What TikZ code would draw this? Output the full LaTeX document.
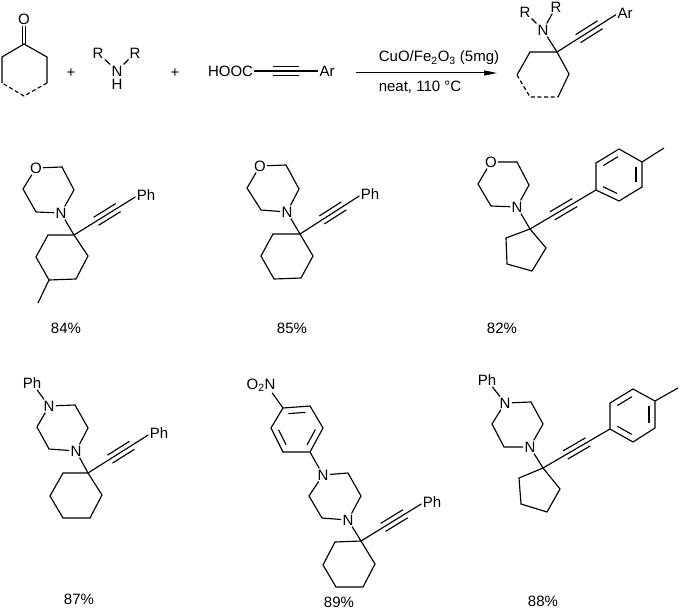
\documentclass[tikz,border=0pt]{standalone}
\usepackage{fontspec}
\setmainfont{Liberation Sans}
\usetikzlibrary{calc,arrows.meta}

\tikzset{
  bond/.style={line width=1.15pt},
  dashbond/.style={line width=1.15pt, dash pattern=on 4pt off 2.6pt},
  atom/.style={inner sep=1.2pt, font=\fontsize{15}{16}\selectfont},
  yield/.style={inner sep=1pt, font=\fontsize{15}{16}\selectfont}
}
% three lines of a triple bond, the middle one runs the whole way
\newcommand{\alkynebond}[3][26pt]{%
  \draw [bond] (#2) -- (#3);
  \draw [bond] ($(#2)!#1!(#3)!4.7pt!90:(#3)$) -- ($(#2)!#1+26pt!(#3)!4.7pt!90:(#3)$);
  \draw [bond] ($(#2)!#1!(#3)!4.7pt!-90:(#3)$) -- ($(#2)!#1+26pt!(#3)!4.7pt!-90:(#3)$);}
% inner line of an aromatic double bond, ring taken clockwise
\newcommand{\innerbond}[2]{%
  \draw [bond] ($(#1)!5pt!(#2)!6pt!-90:(#2)$) -- ($(#2)!5pt!(#1)!6pt!90:(#1)$);}

\begin{document}
\begin{tikzpicture}[x=1pt, y=-1pt]
        \useasboundingbox (0,0) rectangle (680,610);

        \node [atom] (o0) at (24,19)   {O};                          %ketone
        \coordinate (k1) at (24,44);   \coordinate (k2) at (47,57);
        \coordinate (k3) at (47,83);   \coordinate (k4) at (24,96);
        \coordinate (k5) at (2,83);    \coordinate (k6) at (2,57);
        \draw [bond, double, double distance=2.2pt] (k1) -- (o0);    %
        \draw [bond] (k5) -- (k6) -- (k1) -- (k2) -- (k3);           %
        \draw [dashbond] (k3) -- (k4) -- (k5);                       %
        \node [atom] (plus1) at (71,73)  {+};                        %
        \node [atom] (r1) at (98,53)   {R};                          %amine
        \node [atom] (r2) at (135,53)  {R};                          %
        \node [atom] (n0) at (117,71)  {N};                          %
        \node [atom] (h0) at (117,84)  {H};                          %
        \draw [bond] (r1) -- (n0);                                   %
        \draw [bond] (r2) -- (n0);                                   %
        \node [atom] (plus2) at (175,73) {+};                        %
        \node [atom] (hooc) at (230.5,71) {HOOC};                    %acid
        \node [atom] (ar0) at (327,71) {Ar};                         %
        \alkynebond[42pt]{hooc}{ar0}
        \coordinate (arrowa) at (356,73);                            %arrow
        \coordinate (arrowb) at (497,73);                            %
        \draw [line width=1pt, -{Triangle[length=13pt, width=5pt]}] (arrowa) -- (arrowb);
        \node [atom] (cond1) at (439,58) {CuO/Fe\textsubscript{2}O\textsubscript{3} (5mg)};
        \node [atom] (cond2) at (420,87) {neat, 110 °C};             %

        \node [atom] (r3) at (525,12)  {R};                          %product
        \node [atom] (r4) at (556,7)   {R};                          %
        \node [atom] (n9) at (543,30)  {N};                          %
        \node [atom] (ar9) at (625,13) {Ar};                         %
        \coordinate (q9) at (557,52);  \coordinate (p1) at (530,52);
        \coordinate (p2) at (517,75);  \coordinate (p3) at (530,97);
        \coordinate (p4) at (558,97);  \coordinate (p5) at (569,74);
        \draw [bond] (r3) -- (n9);                                   %
        \draw [bond] (r4) -- (n9);                                   %
        \draw [bond] (n9) -- (q9);                                   %
        \draw [bond] (p2) -- (p1) -- (q9) -- (p5) -- (p4);           %
        \draw [dashbond] (p2) -- (p3) -- (p4);                       %
        \alkynebond[25pt]{q9}{ar9.190}

        \node [atom] (o1) at (36,168)  {O};                          %84
        \node [atom] (n1) at (61,213)  {N};                          %
        \node [atom] (ph1) at (146,195) {Ph};                        %
        \coordinate (a1) at (62,167);  \coordinate (a2) at (74,190);
        \coordinate (a3) at (36,212);  \coordinate (a4) at (23,189);
        \coordinate (q1) at (74,235);  \coordinate (a5) at (48,235);
        \coordinate (a6) at (36,257);  \coordinate (a7) at (49,280);
        \coordinate (a8) at (76,279);  \coordinate (a9) at (88,256);
        \coordinate (me1) at (38,303);
        \draw [bond] (o1) -- (a1) -- (a2) -- (n1) -- (a3) -- (a4) -- (o1);
        \draw [bond] (n1) -- (q1);                                   %
        \draw [bond] (q1) -- (a5) -- (a6) -- (a7) -- (a8) -- (a9) -- cycle;
        \draw [bond] (a7) -- (me1);                                  %
        \alkynebond{q1}{ph1.190}
        \node [yield] (y1) at (66,328) {84\%};                       %

        \node [atom] (o2) at (260,166) {O};                          %85
        \node [atom] (n2) at (287,212) {N};                          %
        \node [atom] (ph2) at (370,194) {Ph};                        %
        \coordinate (b1) at (286,165); \coordinate (b2) at (299,189);
        \coordinate (b3) at (261,210); \coordinate (b4) at (247,188);
        \coordinate (q2) at (300,234); \coordinate (b5) at (273,234);
        \coordinate (b6) at (261,256); \coordinate (b7) at (274,279);
        \coordinate (b8) at (301,278); \coordinate (b9) at (313,256);
        \draw [bond] (o2) -- (b1) -- (b2) -- (n2) -- (b3) -- (b4) -- (o2);
        \draw [bond] (n2) -- (q2);                                   %
        \draw [bond] (q2) -- (b5) -- (b6) -- (b7) -- (b8) -- (b9) -- cycle;
        \alkynebond{q2}{ph2.190}
        \node [yield] (y2) at (292,328) {85\%};                      %

        \node [atom] (o3) at (491,162) {O};                          %82
        \node [atom] (n3) at (517,207) {N};                          %
        \coordinate (c1) at (517,162); \coordinate (c2) at (529,185);
        \coordinate (c3) at (491,206); \coordinate (c4) at (478,184);
        \coordinate (q3) at (530,229); \coordinate (c5) at (506,238);
        \coordinate (c6) at (507,264); \coordinate (c7) at (532,271);
        \coordinate (c8) at (546,248);
        \coordinate (t1) at (596,190); \coordinate (t2) at (596,163);
        \coordinate (t3) at (619,149); \coordinate (t4) at (642,162);
        \coordinate (t5) at (642,187); \coordinate (t6) at (619,201);
        \coordinate (me3) at (664,148);
        \draw [bond] (o3) -- (c1) -- (c2) -- (n3) -- (c3) -- (c4) -- (o3);
        \draw [bond] (n3) -- (q3);                                   %
        \draw [bond] (q3) -- (c5) -- (c6) -- (c7) -- (c8) -- cycle;  %
        \draw [bond] (t1) -- (t2) -- (t3) -- (t4) -- (t5) -- (t6) -- cycle;
        \innerbond{t2}{t3} \innerbond{t4}{t5} \innerbond{t6}{t1}
        \draw [bond] (t4) -- (me3);                                  %
        \alkynebond{q3}{t1}
        \node [yield] (y3) at (502,328) {82\%};                      %

        \node [atom] (ph4) at (32,383) {Ph};                         %87
        \node [atom] (n4) at (49,406)  {N};                          %
        \node [atom] (n5) at (76,451)  {N};                          %
        \node [atom] (ph5) at (159,433) {Ph};                        %
        \coordinate (d1) at (75,405);  \coordinate (d2) at (88,428);
        \coordinate (d3) at (49,449);  \coordinate (d4) at (37,427);
        \coordinate (q4) at (88,473);  \coordinate (d5) at (63,473);
        \coordinate (d6) at (50,496);  \coordinate (d7) at (63,518);
        \coordinate (d8) at (90,518);  \coordinate (d9) at (102,495);
        \draw [bond] (ph4) -- (n4);                                  %
        \draw [bond] (n4) -- (d1) -- (d2) -- (n5) -- (d3) -- (d4) -- (n4);
        \draw [bond] (n5) -- (q4);                                   %
        \draw [bond] (q4) -- (d5) -- (d6) -- (d7) -- (d8) -- (d9) -- cycle;
        \alkynebond{q4}{ph5.190}
        \node [yield] (y4) at (79,599) {87\%};                       %

        \node [atom] (no2) at (261,385) {O\textsubscript{2}N};       %89
        \node [atom] (n6) at (323,475) {N};                          %
        \node [atom] (n7) at (348,520) {N};                          %
        \node [atom] (ph7) at (432,502) {Ph};                        %
        \coordinate (u1) at (283,408); \coordinate (u2) at (310,406);
        \coordinate (u3) at (323,428); \coordinate (u4) at (310,452);
        \coordinate (u5) at (283,452); \coordinate (u6) at (271,428);
        \coordinate (e1) at (348,473); \coordinate (e2) at (361,496);
        \coordinate (e3) at (322,518); \coordinate (e4) at (309,496);
        \coordinate (q5) at (361,541); \coordinate (e5) at (335,542);
        \coordinate (e6) at (323,565); \coordinate (e7) at (336,587);
        \coordinate (e8) at (363,587); \coordinate (e9) at (375,564);
        \draw [bond] (no2.-35) -- (u1);                              %
        \draw [bond] (u1) -- (u2) -- (u3) -- (u4) -- (u5) -- (u6) -- cycle;
        \innerbond{u1}{u2} \innerbond{u3}{u4} \innerbond{u5}{u6}
        \draw [bond] (u4) -- (n6);                                   %
        \draw [bond] (n6) -- (e1) -- (e2) -- (n7) -- (e3) -- (e4) -- (n6);
        \draw [bond] (n7) -- (q5);                                   %
        \draw [bond] (q5) -- (e5) -- (e6) -- (e7) -- (e8) -- (e9) -- cycle;
        \alkynebond{q5}{ph7.190}
        \node [yield] (y5) at (339,602) {89\%};                      %

        \node [atom] (ph8) at (487,380) {Ph};                        %88
        \node [atom] (n8) at (505,403) {N};                          %
        \node [atom] (n10) at (530,447) {N};                         %
        \coordinate (f1) at (531,402); \coordinate (f2) at (543,424);
        \coordinate (f3) at (504,447); \coordinate (f4) at (492,424);
        \coordinate (q6) at (543,468); \coordinate (f5) at (519,478);
        \coordinate (f6) at (521,504); \coordinate (f7) at (547,512);
        \coordinate (f8) at (560,489);
        \coordinate (v1) at (610,429); \coordinate (v2) at (610,403);
        \coordinate (v3) at (633,389); \coordinate (v4) at (655,401);
        \coordinate (v5) at (655,428); \coordinate (v6) at (633,442);
        \coordinate (me6) at (678,388);
        \draw [bond] (ph8) -- (n8);                                  %
        \draw [bond] (n8) -- (f1) -- (f2) -- (n10) -- (f3) -- (f4) -- (n8);
        \draw [bond] (n10) -- (q6);                                  %
        \draw [bond] (q6) -- (f5) -- (f6) -- (f7) -- (f8) -- cycle;  %
        \draw [bond] (v1) -- (v2) -- (v3) -- (v4) -- (v5) -- (v6) -- cycle;
        \innerbond{v2}{v3} \innerbond{v4}{v5} \innerbond{v6}{v1}
        \draw [bond] (v4) -- (me6);                                  %
        \alkynebond{q6}{v1}
        \node [yield] (y6) at (543,601) {88\%};                      %
      \end{tikzpicture}
\end{document}
